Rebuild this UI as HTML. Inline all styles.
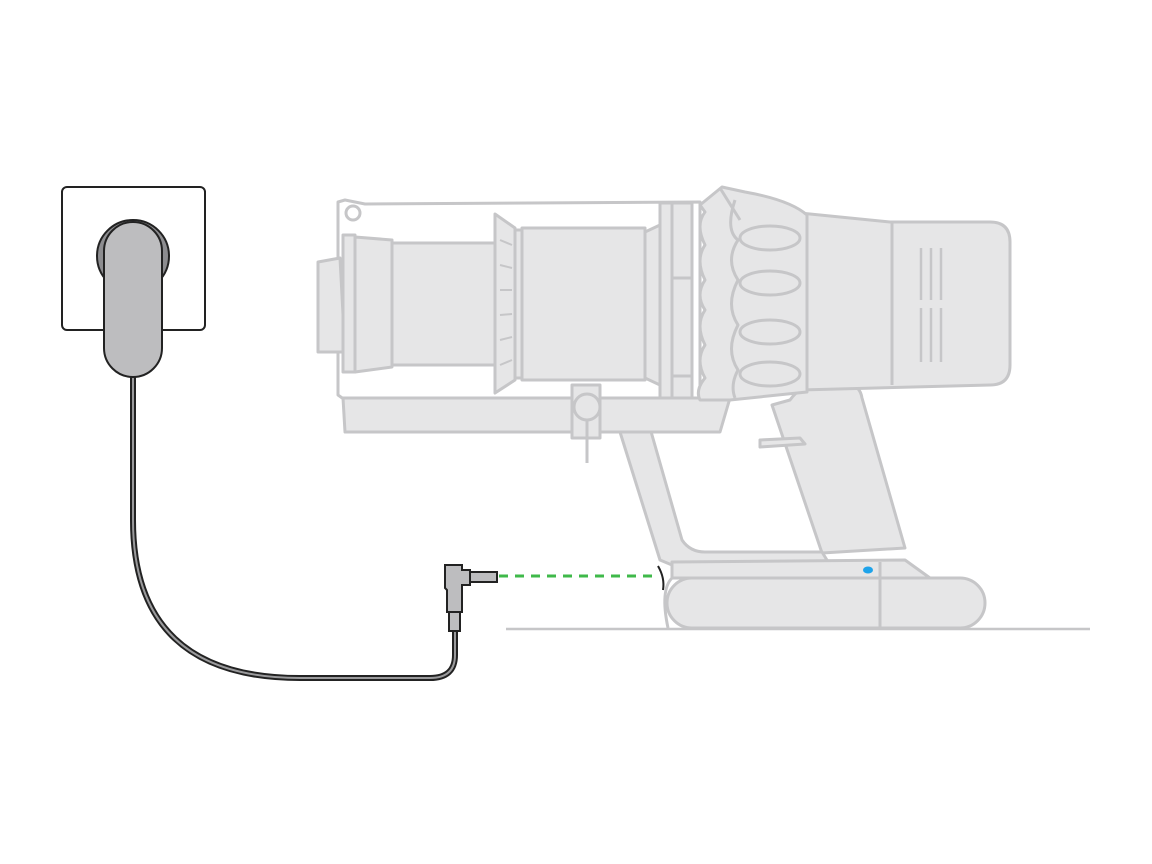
<!DOCTYPE html>
<html><head><meta charset="utf-8"><style>html,body{margin:0;padding:0;background:#fff}svg{display:block}</style></head>
<body>
<svg width="1152" height="864" viewBox="0 0 1152 864" xmlns="http://www.w3.org/2000/svg">
<rect width="1152" height="864" fill="#fff"/>
<g fill="#e6e6e7" stroke="#c6c6c8" stroke-width="3" stroke-linejoin="round">
  <!-- floor -->
  <line x1="506" y1="629" x2="1090" y2="629" stroke-width="2.5"/>
  <!-- handle -->
  <path d="M772,405 L790,400 Q800,386 815,385 L850,385 Q860,386 862,398 L905,548 L822,553 Z"/>
  <path d="M760,440 L800,438 L805,444 L760,447 Z"/>
  <!-- front strut -->
  <path d="M620,432 Q622,424 636,424 L650,428 L682,540 Q690,552 705,552 L822,552 L830,565 L672,565 L660,560 Z"/>
  <!-- battery -->
  <path d="M672,562 L905,560 L930,578 L672,578 Z"/>
  <rect x="667" y="578" width="318" height="50" rx="25"/>
  <line x1="880" y1="562" x2="880" y2="628"/>
  <path d="M672,578 Q660,590 668,628" fill="none"/>
  <!-- main bin outline -->
  <path d="M338,202 L345,200 L365,204 L700,202 L700,400 L345,400 L338,395 Z" fill="#fff"/>
  <circle cx="353" cy="213" r="7" fill="#fff"/>
  <!-- left cap -->
  <path d="M318,262 L340,258 L345,352 L318,352 Z"/>
  <rect x="343" y="235" width="12" height="137"/>
  <path d="M355,237 L392,240 L392,367 L355,372 Z"/>
  <rect x="392" y="243" width="105" height="122"/>
  <!-- cone -->
  <path d="M495,214 L515,228 L515,380 L495,393 Z"/>
  <g stroke-width="2" fill="none"><line x1="500" y1="240" x2="512" y2="245"/><line x1="500" y1="265" x2="512" y2="268"/><line x1="500" y1="290" x2="512" y2="290"/><line x1="500" y1="315" x2="512" y2="314"/><line x1="500" y1="340" x2="512" y2="337"/><line x1="500" y1="365" x2="512" y2="360"/></g>
  <rect x="515" y="230" width="8" height="148"/>
  <rect x="522" y="228" width="123" height="152"/>
  <path d="M645,232 L660,225 L660,385 L645,378 Z"/>
  <rect x="660" y="203" width="12" height="197"/>
  <rect x="672" y="203" width="20" height="197"/>
  <line x1="672" y1="278" x2="692" y2="278"/><line x1="672" y1="376" x2="692" y2="376"/>
  <!-- bar -->
  <path d="M343,398 L730,398 L720,432 L345,432 Z"/>
  <!-- pivot -->
  <rect x="572" y="385" width="28" height="53"/>
  <circle cx="587" cy="407" r="13"/>
  <line x1="587" y1="420" x2="587" y2="463"/>
  <!-- motor -->
  <path d="M790,212 L890,222 L990,222 Q1010,222 1010,242 L1010,365 Q1010,385 990,385 L800,390 Z"/>
  <line x1="892" y1="222" x2="892" y2="385"/>
  <g stroke-width="2.5"><line x1="921" y1="248" x2="921" y2="300"/><line x1="931" y1="248" x2="931" y2="300"/><line x1="941" y1="248" x2="941" y2="300"/><line x1="921" y1="308" x2="921" y2="362"/><line x1="931" y1="308" x2="931" y2="362"/><line x1="941" y1="308" x2="941" y2="362"/></g>
  <!-- cyclones -->
  <path d="M700,205 L722,187 L745,192 Q790,200 807,215 L807,392 L730,400 L700,400 Q695,390 705,378 Q695,360 705,345 Q695,325 705,310 Q695,295 705,280 Q695,260 705,245 Q695,225 705,212 Z"/>
  <path d="M735,200 Q725,230 738,240 Q725,260 738,280 Q725,305 738,325 Q725,350 738,370 Q730,385 735,398" fill="none"/>
  <ellipse cx="770" cy="238" rx="30" ry="12"/>
  <ellipse cx="770" cy="283" rx="30" ry="12"/>
  <ellipse cx="770" cy="332" rx="30" ry="12"/>
  <ellipse cx="770" cy="374" rx="30" ry="12"/>
  <path d="M720,188 L740,220" fill="none"/>
</g>
<!-- blue dot -->
<ellipse cx="868" cy="570" rx="5" ry="3.5" fill="#1ea3ea"/>
<!-- black arc at port -->
<path d="M658,566 Q665,578 663,590" fill="none" stroke="#222" stroke-width="2"/>
<!-- green dashed -->
<line x1="499" y1="576" x2="656" y2="576" stroke="#3fb94a" stroke-width="3" stroke-dasharray="9,7"/>
<!-- wall plate -->
<rect x="62" y="187" width="143" height="143" rx="5" fill="#fff" stroke="#222" stroke-width="2"/>
<circle cx="133" cy="256" r="36" fill="#8d8d90" stroke="#222" stroke-width="2"/>
<!-- cable -->
<path d="M133,377 L133,520 Q133,678 300,678 L430,678 Q455,678 455,655 L455,630" fill="none" stroke="#222" stroke-width="6"/>
<path d="M133,377 L133,520 Q133,678 300,678 L430,678 Q455,678 455,655 L455,630" fill="none" stroke="#9a9a9c" stroke-width="2"/>
<!-- plug body -->
<rect x="104" y="222" width="58" height="155" rx="29" fill="#bdbdbf" stroke="#222" stroke-width="2"/>
<!-- connector -->
<rect x="449" y="610" width="11" height="21" fill="#bdbdbf" stroke="#222" stroke-width="2"/>
<path d="M445,565 L462,565 L462,570 L470,570 L470,585 L462,585 L462,612 L447,612 L447,590 L445,588 Z" fill="#bdbdbf" stroke="#222" stroke-width="2"/>
<rect x="470" y="572" width="27" height="10" fill="#bdbdbf" stroke="#222" stroke-width="2"/>
</svg>
</body></html>
